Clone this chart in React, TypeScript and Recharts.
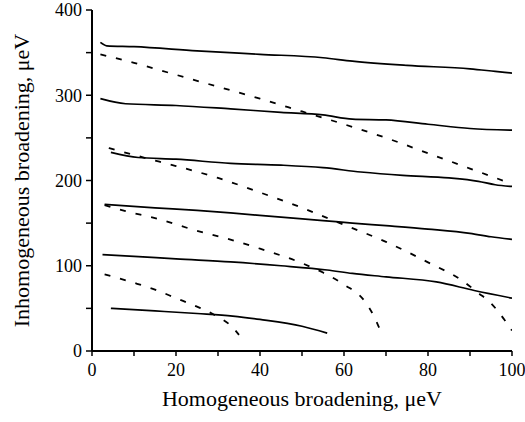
import { LineChart, Line, XAxis, YAxis, Label } from "recharts";

// x ticks (minor every 10, labelled every 20)
const xTicks = [0, 10, 20, 30, 40, 50, 60, 70, 80, 90, 100];
// y ticks (minor every 50, labelled every 100)
const yTicks = [0, 50, 100, 150, 200, 250, 300, 350, 400];

// solid curves, [homogeneous, inhomogeneous]
const solid1: [number, number][] = [
  [2, 362], [3.5, 358], [10, 357], [25, 352], [40, 348], [55, 344],
  [62, 340], [75, 335], [90, 331], [96, 328], [100, 326],
];
const solid2: [number, number][] = [
  [2, 296], [8, 290], [20, 288], [33, 284], [45, 280], [55, 277],
  [62, 272], [70, 271], [80, 266], [90, 261], [100, 259],
];
const solid3: [number, number][] = [
  [4.5, 233], [11, 227], [20, 225], [33, 220], [45, 218], [55, 215],
  [64, 210], [74, 206], [85, 203], [92, 199], [96, 195], [100, 193],
];
const solid4: [number, number][] = [
  [3, 172], [15, 168], [25, 165], [33, 162], [45, 157], [55, 153],
  [62, 150], [70, 147], [80, 143], [90, 138], [95, 134], [100, 131],
];
const solid5: [number, number][] = [
  [2.5, 113], [10, 111], [20, 108], [33, 104.5], [45, 100], [56, 95],
  [62, 91], [70, 87], [82, 81], [91, 71], [100, 62],
];
const solid6: [number, number][] = [
  [4.5, 50], [15, 47], [25, 44], [33.5, 41], [40, 37], [50, 29], [56, 21],
];

// dashed curves
const dashed1: [number, number][] = [
  [2, 348], [10, 338], [20, 324], [30, 310], [40, 296], [50, 281],
  [60, 266], [70, 250], [80, 232], [90, 214], [100, 196],
];
const dashed2: [number, number][] = [
  [4, 238], [13, 226], [20, 217], [30, 203], [40, 186], [50, 168],
  [60, 148], [70, 128], [80, 104], [88, 83], [92, 68], [95, 56],
  [98, 38], [100, 24],
];
const dashed3: [number, number][] = [
  [3, 171], [8, 164], [15, 156], [25, 141], [32, 132], [40, 120],
  [50, 103], [55, 92], [60, 78], [65, 58], [67, 42], [69, 20],
];
const dashed4: [number, number][] = [
  [3, 90], [10, 80], [15, 72], [20, 62], [25, 52], [30, 40], [33, 30], [35, 19],
];

const solidCurves = [solid1, solid2, solid3, solid4, solid5, solid6];
const dashedCurves = [dashed1, dashed2, dashed3, dashed4];

const toRows = (pts: [number, number][]) => pts.map(([x, y]) => ({ x, y }));

const font = "'Liberation Serif', 'Times New Roman', serif";
const tickStyle = { fill: "#000", fontSize: 18, fontFamily: font };

export default function App() {
  return (
    <div style={{ position: "absolute", left: 0, top: 0 }}>
      <LineChart
        width={525}
        height={422}
        margin={{ top: 10, right: 13, bottom: 11, left: 0 }}
        style={{ fontFamily: font }}
      >
        <XAxis
          type="number"
          dataKey="x"
          domain={[0, 100]}
          ticks={xTicks}
          interval={0}
          tickFormatter={(v: number) => (v % 20 === 0 ? String(v) : "")}
          height={60}
          tickSize={5}
          tickMargin={7}
          tick={tickStyle}
          axisLine={{ stroke: "#000", strokeWidth: 2 }}
          tickLine={{ stroke: "#000", strokeWidth: 1.5 }}
          allowDataOverflow
        >
          <Label
            value="Homogeneous broadening, μeV"
            position="insideBottom"
            offset={5}
            style={{ fill: "#000", fontSize: 22, fontFamily: font }}
          />
        </XAxis>
        <YAxis
          type="number"
          domain={[0, 400]}
          ticks={yTicks}
          interval={0}
          tickFormatter={(v: number) => (v % 100 === 0 ? String(v) : "")}
          width={92}
          tickSize={6}
          tickMargin={4}
          tick={tickStyle}
          axisLine={{ stroke: "#000", strokeWidth: 2 }}
          tickLine={{ stroke: "#000", strokeWidth: 1.5 }}
          allowDataOverflow
        >
          <Label
            value="Inhomogeneous broadening, μeV"
            angle={-90}
            position="insideLeft"
            offset={21}
            style={{ fill: "#000", fontSize: 22, fontFamily: font, textAnchor: "middle" }}
          />
        </YAxis>
        {solidCurves.map((c, i) => (
          <Line
            key={"s" + i}
            data={toRows(c)}
            dataKey="y"
            type="monotone"
            stroke="#000"
            strokeWidth={1.7}
            dot={false}
            activeDot={false}
            isAnimationActive={false}
          />
        ))}
        {dashedCurves.map((c, i) => (
          <Line
            key={"d" + i}
            data={toRows(c)}
            dataKey="y"
            type="monotone"
            stroke="#000"
            strokeWidth={1.8}
            strokeDasharray="6 10"
            dot={false}
            activeDot={false}
            isAnimationActive={false}
          />
        ))}
      </LineChart>
    </div>
  );
}
